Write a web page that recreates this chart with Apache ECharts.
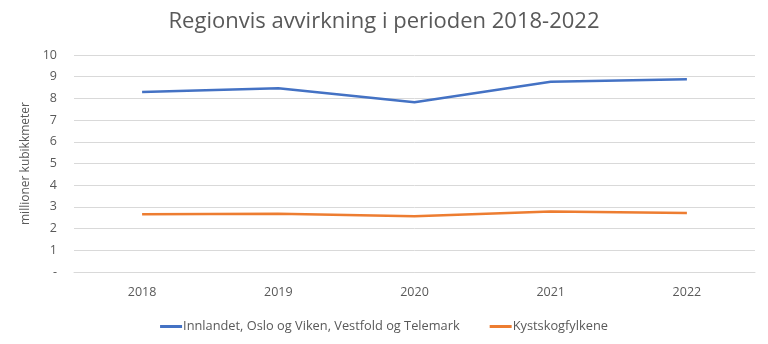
<!DOCTYPE html>
<html>
<head>
<meta charset="utf-8">
<script src="https://cdn.jsdelivr.net/npm/echarts@6/dist/echarts.min.js"></script>
<style>html,body{margin:0;padding:0;background:#fff}#c{width:768px;height:344px}</style>
</head>
<body>
<div id="c"></div>
<script>
var titleText = 'Regionvis avvirkning i perioden 2018-2022';
var yAxisName = 'millioner kubikkmeter';
var categories = ['2018', '2019', '2020', '2021', '2022'];
var seriesNames = ['Innlandet, Oslo og Viken, Vestfold og Telemark', 'Kystskogfylkene'];
var innlandet = [8.29, 8.47, 7.82, 8.77, 8.88];
var kyst = [2.66, 2.68, 2.57, 2.79, 2.72];
var colors = ['#4472C4', '#ED7D31'];
var font = 'Open Sans';

var chart = echarts.init(document.getElementById('c'), null, {renderer: 'canvas'});
chart.setOption({
  animation: false,
  color: colors,
  title: {
    text: titleText, left: 'center', top: 6,
    textStyle: {fontFamily: font, fontSize: 22, fontWeight: 'normal', color: '#595959'}
  },
  legend: {
    bottom: 6, left: 'center', itemGap: 30, itemWidth: 22, itemHeight: 3,
    icon: 'rect',
    textStyle: {fontFamily: font, fontSize: 12.8, color: '#595959', padding: [0, 0, 0, -4]},
    data: seriesNames
  },
  grid: {left: 74, right: 13, top: 55, bottom: 72},
  xAxis: {
    type: 'category', data: categories, boundaryGap: true,
    axisLine: {show: true, lineStyle: {color: '#d9d9d9'}},
    axisTick: {show: false},
    axisLabel: {fontFamily: font, fontSize: 12.5, color: '#595959', margin: 14}
  },
  yAxis: {
    type: 'value', min: 0, max: 10, interval: 1,
    name: yAxisName, nameLocation: 'middle', nameGap: 41, nameRotate: 90,
    nameTextStyle: {fontFamily: font, fontSize: 12, color: '#595959'},
    axisLine: {show: false}, axisTick: {show: false},
    axisLabel: {fontFamily: font, fontSize: 12.5, color: '#595959', margin: 17,
      formatter: function (v) { return v === 0 ? '-' : String(v); }},
    splitLine: {lineStyle: {color: '#d9d9d9', width: 1}}
  },
  series: [
    {name: seriesNames[0], type: 'line', data: innlandet, showSymbol: false, symbol: 'none',
      lineStyle: {width: 2.5, color: colors[0]}},
    {name: seriesNames[1], type: 'line', data: kyst, showSymbol: false, symbol: 'none',
      lineStyle: {width: 2.5, color: colors[1]}}
  ]
});
</script>
</body>
</html>
